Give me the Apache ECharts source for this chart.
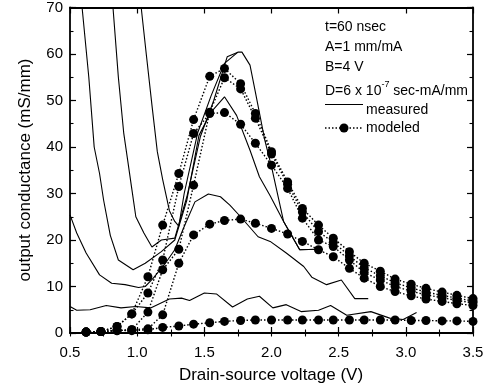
<!DOCTYPE html>
<html>
<head>
<meta charset="utf-8">
<script src="https://cdn.jsdelivr.net/npm/echarts@6/dist/echarts.min.js"></script>
<style>
html,body{margin:0;padding:0;background:#fff;}
#chart{width:488px;height:387px;}
</style>
</head>
<body>
<div id="chart"></div>
<script>
// ---- data ----
var xTicks = [0.5, 1.0, 1.5, 2.0, 2.5, 3.0, 3.5];
var yTicks = [0, 10, 20, 30, 40, 50, 60, 70];

// modeled curves (dots), common voltage grid
var modelV = [0.62,0.73,0.85,0.96,1.08,1.19,1.31,1.42,1.54,1.65,1.77,1.88,2.00,2.12,2.23,2.35,2.46,2.58,2.69,2.81,2.92,3.04,3.15,3.27,3.38,3.50];
var model1 = [0.2,0.3,0.6,0.5,0.7,1.2,1.5,1.9,2.2,2.5,2.7,2.8,2.8,2.8,2.8,2.8,2.8,2.8,2.8,2.8,2.8,2.7,2.7,2.6,2.6,2.5];
var model2 = [0.2,0.3,0.5,0.7,0.9,3.9,15.0,21.1,23.4,24.2,24.5,23.6,22.5,21.3,19.7,17.9,16.4,13.9,11.8,10.0,8.9,8.0,7.3,6.8,6.3,5.9];
var model3 = [0.2,0.3,1.4,4.1,8.6,15.7,31.5,42.9,47.2,47.4,44.9,40.8,36.1,31.1,24.7,20.0,18.6,15.7,13.0,11.4,10.0,9.0,8.2,7.6,7.0,6.5];
var model4 = [0.2,0.3,0.5,0.7,4.5,13.6,18.0,31.8,47.5,54.9,52.5,46.2,38.5,32.0,26.0,21.8,19.5,16.6,14.0,12.3,10.8,9.7,8.8,8.1,7.5,6.9];
var model5 = [0.2,0.3,1.4,4.1,12.1,23.2,34.3,45.9,55.2,56.9,53.6,47.2,39.0,32.5,26.8,23.2,20.4,17.5,15.0,13.3,11.6,10.5,9.6,8.8,8.1,7.4];

// measured curves (solid)
var meas1V = [0.59,0.64,0.68,0.72,0.75,0.80,0.86,0.97,1.06,1.18,1.28,1.37,1.46,1.55,1.65,1.74,1.84,1.91,1.99,2.09,2.21,2.34];
var meas1G = [70,55,40,34.3,28.6,21,15.7,13.6,15,17.5,20,28.6,42.5,47.5,50.8,46.8,39.3,33.6,29.5,24,17.9,18];
var meas2V = [0.82,0.86,0.90,0.93,0.96,0.99,1.05,1.11,1.18,1.28,1.37,1.47,1.57,1.67,1.75,1.78,1.84,1.88,1.95,2.00,2.09,2.21,2.34];
var meas2G = [70,55,43,37,31,25,21.5,18.5,20,20.4,29.3,42.2,50,59.4,60.4,60.4,57.6,51.8,41.5,35.8,24,17.9,18];
var meas3V = [1.03,1.07,1.11,1.15,1.19,1.22,1.24,1.28,1.31,1.35,1.45,1.55,1.65,1.75];
var meas3G = [70,59.4,49,39,33,29,26.3,24,23,30,43,51,58,60.4];
var meas4V = [0.5,0.55,0.62,0.72,0.81,0.91,1.01,1.06,1.12,1.21,1.28,1.34,1.43,1.53,1.62,1.69,1.77,1.90,1.99,2.11,2.24,2.30,2.41,2.52,2.62,2.72];
var meas4G = [25.4,21.5,17.2,12.5,10.7,10.4,9.8,10,11.8,15,17.9,22.2,28.2,29.9,29.3,27.5,25,20.7,19.7,17.2,14.3,12,10.4,11.4,7.4,7.4];
var meas5V = [0.5,0.55,0.65,0.77,0.88,0.99,1.10,1.24,1.33,1.39,1.50,1.59,1.71,1.82,1.91,2.01,2.11,2.22,2.35,2.44,2.56,2.74,2.88,2.98,3.08];
var meas5G = [5.7,4.9,5.0,5.9,5.4,5.7,5.4,7.3,7.5,7.0,8.6,8.4,5.6,7.3,7.9,5.4,6.1,4.6,4.9,5.9,3.8,4.6,3.2,2.9,4.4];

var notes = ['t=60 nsec', 'A=1 mm/mA', 'B=4 V'];
var legendNames = ['measured', 'modeled'];

// ---- build ----
function pairs(xs, ys){ return xs.map(function(x,i){ return [x, ys[i]]; }); }
var FONT = '"Liberation Sans", Arial, Helvetica, sans-serif';
var DOT = [1.5, 2];

var series = [];
[[meas1V,meas1G],[meas2V,meas2G],[meas3V,meas3G],[meas4V,meas4G],[meas5V,meas5G]].forEach(function(c){
  series.push({
    name: legendNames[0], type: 'line', data: pairs(c[0], c[1]),
    symbol: 'none', clip: true, z: 2, xAxisIndex: 0, yAxisIndex: 0,
    lineStyle: { color: '#000', width: 1.1 }, itemStyle: { color: '#000' }
  });
});
[model1, model2, model3, model4, model5].forEach(function(m){
  series.push({
    name: legendNames[1], type: 'line', data: pairs(modelV, m),
    symbol: 'circle', symbolSize: 9, clip: true, z: 3, xAxisIndex: 0, yAxisIndex: 0,
    lineStyle: { color: '#000', width: 1.4, type: DOT },
    itemStyle: { color: '#000' }
  });
});

var axisLine = { show: true, onZero: false, lineStyle: { color: '#000', width: 1.8 } };
var noLine = { show: false };
var majorTick = { show: true, inside: true, length: 6, lineStyle: { color: '#000', width: 1.2 } };
var minorTickS = { show: true, inside: true, length: 3.5, lineStyle: { color: '#000', width: 1.1 } };
var xMin = xTicks[0], xMax = xTicks[xTicks.length-1];
var yMin = yTicks[0], yMax = yTicks[yTicks.length-1];

function xAx(pos, interval, line, tick, label){
  return { type: 'value', position: pos, min: xMin, max: xMax, interval: interval,
    axisLine: line, axisTick: tick, splitLine: { show: false }, axisLabel: label || { show: false } };
}
function yAx(pos, interval, line, tick, label){
  return { type: 'value', position: pos, min: yMin, max: yMax, interval: interval,
    axisLine: line, axisTick: tick, splitLine: { show: false }, axisLabel: label || { show: false } };
}

var chart = echarts.init(document.getElementById('chart'), null, { renderer: 'canvas' });
chart.setOption({
  animation: false,
  backgroundColor: '#fff',
  grid: { left: 70, top: 7, width: 403, height: 326, containLabel: false },
  xAxis: [
    xAx('bottom', 0.5, axisLine, majorTick, { color: '#000', fontSize: 15, fontFamily: FONT, margin: 12,
      formatter: function(v){ return v.toFixed(1); } }),
    xAx('top', 0.5, axisLine, majorTick),
    xAx('bottom', 0.25, noLine, minorTickS),
    xAx('top', 0.25, noLine, minorTickS)
  ],
  yAxis: [
    yAx('left', 10, axisLine, majorTick, { color: '#000', fontSize: 15, fontFamily: FONT, margin: 7 }),
    yAx('right', 10, axisLine, majorTick),
    yAx('left', 5, noLine, minorTickS),
    yAx('right', 5, noLine, minorTickS)
  ],
  graphic: [
    { type: 'text', left: 325, top: 20, style: { text: notes[0], fill: '#000', font: '14px ' + FONT } },
    { type: 'text', left: 325, top: 40, style: { text: notes[1], fill: '#000', font: '14px ' + FONT } },
    { type: 'text', left: 325, top: 60, style: { text: notes[2], fill: '#000', font: '14px ' + FONT } },
    { type: 'text', left: 325, top: 80, style: {
        text: '{a|D=6 x 10}{s|-7}{a| sec-mA/mm}', fill: '#000',
        rich: {
          a: { fontSize: 14, fontFamily: FONT, color: '#000', lineHeight: 18, verticalAlign: 'bottom' },
          s: { fontSize: 9, fontFamily: FONT, color: '#000', lineHeight: 18, verticalAlign: 'top' }
        } } },
    // legend
    { type: 'line', shape: { x1: 325, y1: 104.5, x2: 363, y2: 104.5 }, style: { stroke: '#000', lineWidth: 1.1 } },
    { type: 'text', x: 366, y: 110, style: { text: legendNames[0], fill: '#000', font: '14px ' + FONT, textVerticalAlign: 'middle' } },
    { type: 'line', shape: { x1: 325, y1: 128, x2: 363, y2: 128 }, style: { stroke: '#000', lineWidth: 1.4, lineDash: DOT } },
    { type: 'circle', shape: { cx: 344, cy: 128, r: 4.5 }, style: { fill: '#000' } },
    { type: 'text', x: 366, y: 128, style: { text: legendNames[1], fill: '#000', font: '14px ' + FONT, textVerticalAlign: 'middle' } },
    // axis titles
    { type: 'text', x: 271, y: 375, style: { text: 'Drain-source voltage (V)', fill: '#000',
        font: '17px ' + FONT, textAlign: 'center', textVerticalAlign: 'middle' } },
    { type: 'text', x: 25, y: 170, rotation: Math.PI / 2, style: { text: 'output conductance (mS/mm)', fill: '#000',
        font: '17px ' + FONT, textAlign: 'center', textVerticalAlign: 'middle' } }
  ],
  series: series
});
</script>
</body>
</html>
